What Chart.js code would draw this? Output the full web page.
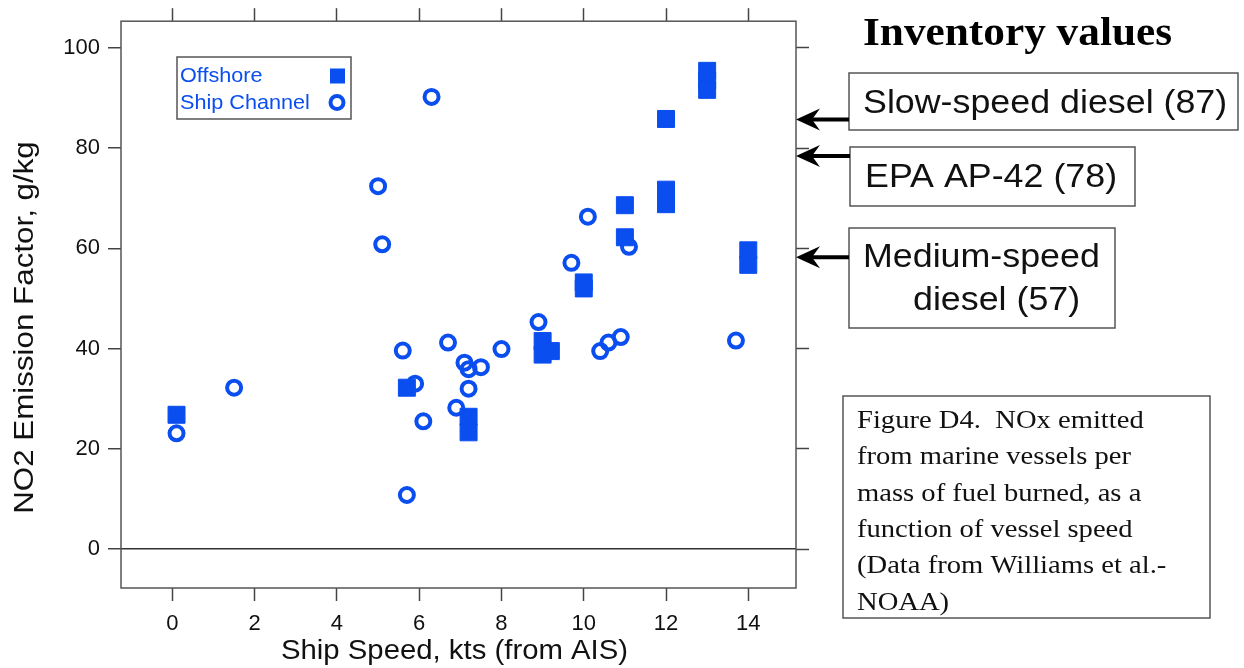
<!DOCTYPE html>
<html>
<head>
<meta charset="utf-8">
<script src="https://cdn.jsdelivr.net/npm/chart.js@4.4.0/dist/chart.umd.min.js"></script>
<style>
  html, body { margin: 0; padding: 0; background: #fff; }
  #wrap { width: 1244px; height: 668px; }
</style>
</head>
<body>
<div id="wrap"><canvas id="grafico" width="1244" height="668"></canvas></div>
<script>
// Offshore (filled squares)
const offshoreSpeed = [0.1, 5.7, 7.2, 7.2, 9.0, 9.0, 9.2, 10.0, 10.0, 11.0, 11.0, 12.0, 12.0, 12.0, 13.0, 13.0, 13.0, 14.0, 14.0];
const offshoreNO2 = [26.8, 32.2, 26.4, 23.3, 41.5, 38.8, 39.5, 53.2, 52.0, 68.6, 62.2, 85.8, 71.7, 68.8, 95.4, 93.5, 91.6, 59.6, 56.7];

// Ship Channel (open circles)
const shipSpeed = [0.1, 1.5, 5.0, 5.1, 5.6, 5.7, 5.9, 6.1, 6.3, 6.7, 6.9, 7.1, 7.2, 7.2, 7.5, 8.0, 8.9, 9.7, 10.1, 10.4, 10.6, 10.9, 11.1, 13.7];
const shipNO2 = [23.1, 32.2, 72.4, 60.8, 39.6, 10.8, 33.0, 25.5, 90.2, 41.2, 28.2, 37.2, 35.9, 32.0, 36.3, 39.9, 45.3, 57.1, 66.3, 39.5, 41.2, 42.3, 60.3, 41.6];

const xTicks = [0, 2, 4, 6, 8, 10, 12, 14];
const yTicks = [0, 20, 40, 60, 80, 100];

// inventory values: where each arrow points on the y axis
const inventoryArrowAt = [85.7, 78.4, 58.2];

const azul = '#0a4ef0';
const sans = '"Liberation Sans", Arial, sans-serif';
const serif = '"Liberation Serif", "Times New Roman", serif';

function pares(xs, ys) {
  return xs.map((x, i) => ({ x: x, y: ys[i] }));
}

function fixTicks(valores) {
  return function(scale) {
    scale.ticks = valores.map(v => ({ value: v }));
  };
}

// texto um pouco esticado na horizontal, como no original
function texto(ctx, t, x, y, sx, align) {
  ctx.save();
  ctx.translate(x, y);
  ctx.scale(sx, 1);
  ctx.textAlign = align || 'left';
  ctx.fillText(t, 0, 0);
  ctx.restore();
}

function seta(ctx, xBox, y) {
  ctx.lineWidth = 4;
  ctx.strokeStyle = '#000';
  ctx.beginPath();
  ctx.moveTo(xBox, y);
  ctx.lineTo(808, y);
  ctx.stroke();
  ctx.fillStyle = '#000';
  ctx.beginPath();
  ctx.moveTo(796, y);
  ctx.lineTo(820, y - 11);
  ctx.lineTo(812, y);
  ctx.lineTo(820, y + 11);
  ctx.closePath();
  ctx.fill();
}

function caixa(ctx, x, y, w, h) {
  ctx.lineWidth = 1.5;
  ctx.strokeStyle = '#555';
  ctx.strokeRect(x, y, w, h);
}

const decoracao = {
  id: 'decoracao',
  afterDraw(chart) {
    const { ctx, chartArea: a } = chart;
    const yScale = chart.scales.y;
    ctx.save();
    ctx.textBaseline = 'alphabetic';

    // frame
    ctx.lineWidth = 1.5;
    ctx.strokeStyle = '#555';
    ctx.strokeRect(a.left, a.top, a.right - a.left, a.bottom - a.top);

    // axis titles
    ctx.fillStyle = '#111';
    ctx.font = '27px ' + sans;
    texto(ctx, 'Ship Speed, kts (from AIS)', 454.5, 659, 1.086, 'center');
    ctx.save();
    ctx.translate(33, 327.5);
    ctx.rotate(-Math.PI / 2);
    texto(ctx, 'NO2 Emission Factor, g/kg', 0, 0, 1.16, 'center');
    ctx.restore();

    // legend (text left, marker right)
    ctx.fillStyle = '#fff';
    ctx.fillRect(177, 57, 174, 62);
    caixa(ctx, 177, 57, 174, 62);
    ctx.font = '21px ' + sans;
    ctx.fillStyle = azul;
    texto(ctx, chart.data.datasets[0].label, 180, 82, 1.03);
    texto(ctx, chart.data.datasets[1].label, 180, 109, 1.03);
    ctx.fillRect(330, 68.5, 15, 15);
    ctx.strokeStyle = azul;
    ctx.lineWidth = 4;
    ctx.beginPath();
    ctx.arc(337, 102.5, 6.5, 0, Math.PI * 2);
    ctx.stroke();

    // right side annotations
    ctx.fillStyle = '#000';
    ctx.font = 'bold 39px ' + serif;
    texto(ctx, 'Inventory values', 863, 45, 1.11);

    caixa(ctx, 849, 73, 389, 57);
    caixa(ctx, 850, 147, 285, 59);
    caixa(ctx, 849, 228, 266, 100);

    ctx.fillStyle = '#111';
    ctx.font = '33px ' + sans;
    texto(ctx, 'Slow-speed diesel (87)', 863, 113, 1.085);
    texto(ctx, 'EPA AP-42 (78)', 865, 187, 1.085);
    texto(ctx, 'Medium-speed', 863, 267, 1.085);
    texto(ctx, 'diesel (57)', 913, 310, 1.085);

    seta(ctx, 849, yScale.getPixelForValue(inventoryArrowAt[0]));
    seta(ctx, 850, yScale.getPixelForValue(inventoryArrowAt[1]));
    seta(ctx, 849, yScale.getPixelForValue(inventoryArrowAt[2]));

    // caption
    caixa(ctx, 843, 396, 367, 222);
    ctx.fillStyle = '#111';
    ctx.font = '26px ' + serif;
    const linhas = [
      'Figure D4.  NOx emitted',
      'from marine vessels per',
      'mass of fuel burned, as a',
      'function of vessel speed',
      '(Data from Williams et al.-',
      'NOAA)'
    ];
    linhas.forEach((t, i) => texto(ctx, t, 857, 428 + i * 36.3, 1.1));

    ctx.restore();
  }
};

document.addEventListener('DOMContentLoaded', function() {
  const ctx = document.getElementById('grafico').getContext('2d');

  const tickFont = { family: sans, size: 22 };

  new Chart(ctx, {
    type: 'scatter',
    data: {
      datasets: [
        {
          label: 'Offshore',
          data: pares(offshoreSpeed, offshoreNO2),
          pointStyle: 'rect',
          pointRadius: 12,
          backgroundColor: azul,
          borderColor: azul,
          borderWidth: 1,
          order: 2
        },
        {
          label: 'Ship Channel',
          data: pares(shipSpeed, shipNO2),
          pointStyle: 'circle',
          pointRadius: 7,
          backgroundColor: 'rgba(0,0,0,0)',
          borderColor: azul,
          borderWidth: 4,
          order: 1
        }
      ]
    },
    options: {
      responsive: false,
      animation: false,
      events: [],
      layout: { padding: 0 },
      plugins: {
        legend: { display: false },
        tooltip: { enabled: false }
      },
      scales: {
        x: {
          type: 'linear',
          position: 'bottom',
          min: -1.25,
          max: 15.16,
          afterBuildTicks: fixTicks(xTicks),
          afterFit: s => { s.height = 80; },
          border: { display: false },
          grid: { drawOnChartArea: false, tickLength: 13, tickColor: '#444', tickWidth: 1.5 },
          ticks: { font: tickFont, color: '#111', padding: 10 }
        },
        xTop: {
          type: 'linear',
          position: 'top',
          min: -1.25,
          max: 15.16,
          afterBuildTicks: fixTicks(xTicks),
          afterFit: s => { s.height = 19; },
          border: { display: false },
          grid: { drawOnChartArea: false, tickLength: 13, tickColor: '#444', tickWidth: 1.5 },
          ticks: { display: false }
        },
        y: {
          type: 'linear',
          position: 'left',
          min: -7.75,
          max: 105.3,
          afterBuildTicks: fixTicks(yTicks),
          afterFit: s => { s.width = 121; },
          border: { display: false },
          grid: {
            drawOnChartArea: true,
            color: c => (c.tick && c.tick.value === 0 ? '#333' : 'rgba(0,0,0,0)'),
            lineWidth: 1.5,
            tickLength: 13,
            tickColor: '#444',
            tickWidth: 1.5
          },
          ticks: { font: tickFont, color: '#111', padding: 8 }
        },
        yRight: {
          type: 'linear',
          position: 'right',
          min: -7.75,
          max: 105.3,
          afterBuildTicks: fixTicks(yTicks),
          afterFit: s => { s.width = 448; },
          border: { display: false },
          grid: { drawOnChartArea: false, tickLength: 13, tickColor: '#444', tickWidth: 1.5 },
          ticks: { display: false }
        }
      }
    },
    plugins: [decoracao]
  });
});
</script>
</body>
</html>
